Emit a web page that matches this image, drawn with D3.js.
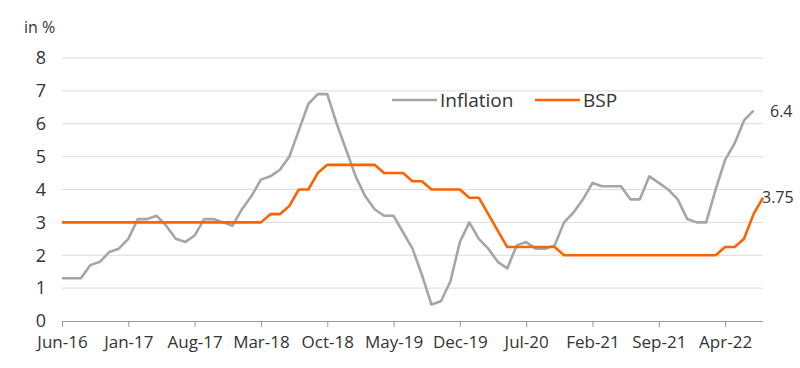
<!DOCTYPE html>
<html>
<head>
<meta charset="utf-8">
<script src="https://cdn.jsdelivr.net/npm/d3@7"></script>
<style>
  html, body { margin: 0; padding: 0; background: #fff; }
  svg { display: block; font-family: "Open Sans", sans-serif; }
</style>
</head>
<body>
<svg id="chart" width="800" height="368"></svg>
<script>
// Monthly categories Jun-16 .. Aug-22
const months = [
  "Jun-16","Jul-16","Aug-16","Sep-16","Oct-16","Nov-16","Dec-16",
  "Jan-17","Feb-17","Mar-17","Apr-17","May-17","Jun-17","Jul-17","Aug-17","Sep-17","Oct-17","Nov-17","Dec-17",
  "Jan-18","Feb-18","Mar-18","Apr-18","May-18","Jun-18","Jul-18","Aug-18","Sep-18","Oct-18","Nov-18","Dec-18",
  "Jan-19","Feb-19","Mar-19","Apr-19","May-19","Jun-19","Jul-19","Aug-19","Sep-19","Oct-19","Nov-19","Dec-19",
  "Jan-20","Feb-20","Mar-20","Apr-20","May-20","Jun-20","Jul-20","Aug-20","Sep-20","Oct-20","Nov-20","Dec-20",
  "Jan-21","Feb-21","Mar-21","Apr-21","May-21","Jun-21","Jul-21","Aug-21","Sep-21","Oct-21","Nov-21","Dec-21",
  "Jan-22","Feb-22","Mar-22","Apr-22","May-22","Jun-22","Jul-22","Aug-22"
];
const tickLabels = ["Jun-16","Jan-17","Aug-17","Mar-18","Oct-18","May-19","Dec-19","Jul-20","Feb-21","Sep-21","Apr-22"];
const yTicks = [0,1,2,3,4,5,6,7,8];

const inflation = [
  1.3,1.3,1.3,1.7,1.8,2.1,2.2,2.5,3.1,3.1,
  3.2,2.9,2.5,2.4,2.6,3.1,3.1,3.0,2.9,3.4,
  3.8,4.3,4.4,4.6,5.0,5.8,6.6,6.9,6.9,6.0,
  5.2,4.4,3.8,3.4,3.2,3.2,2.7,2.2,1.4,0.5,
  0.6,1.2,2.4,3.0,2.5,2.2,1.8,1.6,2.3,2.4,
  2.2,2.2,2.3,3.0,3.3,3.7,4.2,4.1,4.1,4.1,
  3.7,3.7,4.4,4.2,4.0,3.7,3.1,3.0,3.0,4.0,
  4.9,5.4,6.1,6.4
];
const bsp = [
  3,3,3,3,3,3,3,3,3,3,3,3,3,3,3,3,3,3,3,3,3,3,
  3.25,3.25,3.5,4.0,4.0,4.5,
  4.75,4.75,4.75,4.75,4.75,4.75,
  4.5,4.5,4.5,4.25,4.25,
  4.0,4.0,4.0,4.0,3.75,3.75,3.25,2.75,
  2.25,2.25,2.25,2.25,2.25,2.25,
  2,2,2,2,2,2,2,2,2,2,2,2,2,2,2,2,2,
  2.25,2.25,2.5,3.25,3.75
];
const seriesNames = ["Inflation","BSP"];
const colors = {"Inflation":"#a6a6a6","BSP":"#ff6200"};

const svg = d3.select("#chart");
const mLeft = 62, mRight = 763, mTop = 58, mBottom = 321;

const x = d3.scaleLinear().domain([0, months.length - 1]).range([mLeft, mRight]);
const y = d3.scaleLinear().domain([0, 8]).range([mBottom, mTop]);

// gridlines
svg.append("g").selectAll("line")
  .data(yTicks.filter(d => d > 0))
  .join("line")
  .attr("x1", mLeft).attr("x2", mRight)
  .attr("y1", d => y(d)).attr("y2", d => y(d))
  .attr("stroke", "#dcdcdc").attr("stroke-width", 1);

// y labels
svg.append("g").selectAll("text")
  .data(yTicks)
  .join("text")
  .attr("x", 46).attr("y", d => y(d))
  .attr("dy", "0.35em")
  .attr("text-anchor", "end")
  .attr("font-size", 18)
  .attr("fill", "#333")
  .text(d => d);

svg.append("text")
  .attr("x", 24).attr("y", 33)
  .attr("font-size", 16).attr("fill", "#333")
  .text("in %");

// x axis
const tickIdx = tickLabels.map(l => months.indexOf(l));
const xAxis = d3.axisBottom(x)
  .tickValues(tickIdx)
  .tickSize(6)
  .tickFormat(i => months[i]);
const gx = svg.append("g").attr("transform", `translate(0,${mBottom})`).call(xAxis);
gx.select(".domain").attr("stroke", "#999").attr("d", `M${mLeft},0.5H${mRight}`);
gx.selectAll(".tick line").attr("stroke", "#999");
gx.selectAll(".tick text")
  .attr("font-size", 17)
  .attr("font-family", "Open Sans, sans-serif")
  .attr("fill", "#333")
  .attr("dy", "1.05em");

// lines
const line = d3.line().x((d, i) => x(i)).y(d => y(d));
svg.append("path").datum(inflation)
  .attr("fill", "none").attr("stroke", colors["Inflation"])
  .attr("stroke-width", 2.6).attr("stroke-linejoin", "round")
  .attr("d", line);
svg.append("path").datum(bsp)
  .attr("fill", "none").attr("stroke", colors["BSP"])
  .attr("stroke-width", 2.6).attr("stroke-linejoin", "round")
  .attr("d", line);

// end labels
svg.append("text")
  .attr("x", 770).attr("y", y(inflation[inflation.length - 1]) + 1)
  .attr("dy", "0.35em").attr("font-size", 16).attr("fill", "#333")
  .text(inflation[inflation.length - 1]);
svg.append("text")
  .attr("x", 762).attr("y", y(bsp[bsp.length - 1]))
  .attr("dy", "0.35em").attr("font-size", 16).attr("fill", "#333")
  .text(bsp[bsp.length - 1].toFixed(2));

// legend
const legendPos = [{lx: 392, tx: 440}, {lx: 535, tx: 583}];
seriesNames.forEach((name, k) => {
  const p = legendPos[k];
  svg.append("line")
    .attr("x1", p.lx).attr("x2", p.lx + 45)
    .attr("y1", 100).attr("y2", 100)
    .attr("stroke", colors[name]).attr("stroke-width", 2.6);
  svg.append("text")
    .attr("x", p.tx).attr("y", 100)
    .attr("dy", "0.35em")
    .attr("font-size", 19).attr("fill", "#333")
    .text(name);
});
</script>
</body>
</html>
